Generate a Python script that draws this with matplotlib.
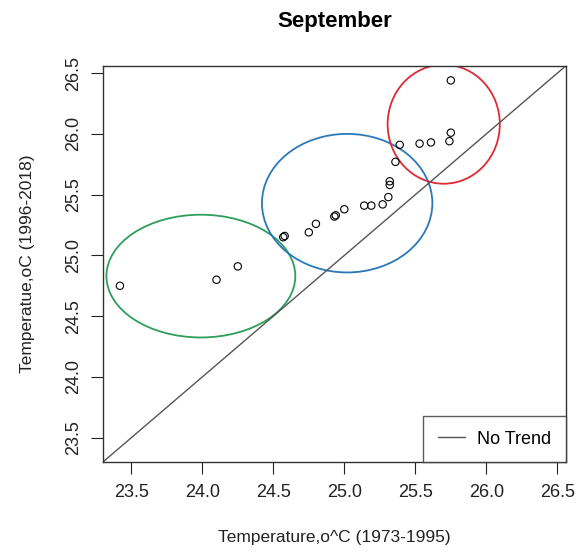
import matplotlib
matplotlib.use('Agg')
import matplotlib.pyplot as plt
from matplotlib.patches import Ellipse

plt.rcParams['font.family'] = ['Liberation Sans', 'DejaVu Sans']

# September mean temperatures: 1973-1995 (x) vs 1996-2018 (y)
temp_old = [23.42, 24.10, 24.25, 24.57, 24.58, 24.75, 24.80, 24.93, 24.94,
            25.00, 25.14, 25.19, 25.27, 25.31, 25.32, 25.32, 25.36, 25.39,
            25.53, 25.61, 25.74, 25.75, 25.75]
temp_new = [24.75, 24.80, 24.91, 25.15, 25.16, 25.19, 25.26, 25.32, 25.33,
            25.38, 25.41, 25.41, 25.42, 25.48, 25.58, 25.61, 25.77, 25.91,
            25.92, 25.93, 25.94, 26.01, 26.44]

# highlighted groups: centre x, centre y, width, height, colour
groups_cx = [23.99, 25.02, 25.70]
groups_cy = [24.83, 25.43, 26.08]
groups_w = [1.33, 1.20, 0.79]
groups_h = [1.01, 1.14, 0.98]
groups_col = ['#2e9e5b', '#2b78b8', '#dd2a33']

ticks = [23.5, 24.0, 24.5, 25.0, 25.5, 26.0, 26.5]
lo, hi = 23.3, 26.56

fig = plt.figure(figsize=(5.78, 5.58), dpi=100)
ax = fig.add_axes([0.178, 0.172, 0.801, 0.71])

ax.scatter(temp_old, temp_new, s=28, facecolors='none', edgecolors='black',
           linewidths=0.8, zorder=3)

for cx, cy, w, h, c in zip(groups_cx, groups_cy, groups_w, groups_h, groups_col):
    ax.add_patch(Ellipse((cx, cy), w, h, fill=False, edgecolor=c, lw=1.3))

ax.plot([lo, hi], [lo, hi], color='#555555', lw=1.0, label='No Trend')

ax.set_xlim(lo, hi)
ax.set_ylim(lo, hi)
ax.set_xticks(ticks)
ax.set_yticks(ticks)
ax.set_xticklabels([f'{t:.1f}' for t in ticks])
ax.set_yticklabels([f'{t:.1f}' for t in ticks], rotation=90, va='center')
ax.tick_params(length=8.5, width=0.8, labelsize=13, colors='#222222')
ax.tick_params(axis='x', pad=7.4)
ax.tick_params(axis='y', pad=6.5)

for sp in ax.spines.values():
    sp.set_linewidth(1.0)
    sp.set_color('#333333')

ax.set_title('September', fontsize=16, fontweight='bold', pad=28)
ax.set_xlabel('Temperature,o^C (1973-1995)', fontsize=12.5, labelpad=21, color='#222222')
ax.set_ylabel('Temperatue,oC (1996-2018)', fontsize=12.5, labelpad=21.5, color='#222222')

leg = ax.legend(loc='lower right', fontsize=13, frameon=True, fancybox=False,
                borderaxespad=0, handlelength=1.5, handletextpad=0.7, borderpad=0.8)
leg.get_frame().set_edgecolor('#333333')
leg.get_frame().set_linewidth(1.0)

plt.savefig('out.png', dpi=100)
